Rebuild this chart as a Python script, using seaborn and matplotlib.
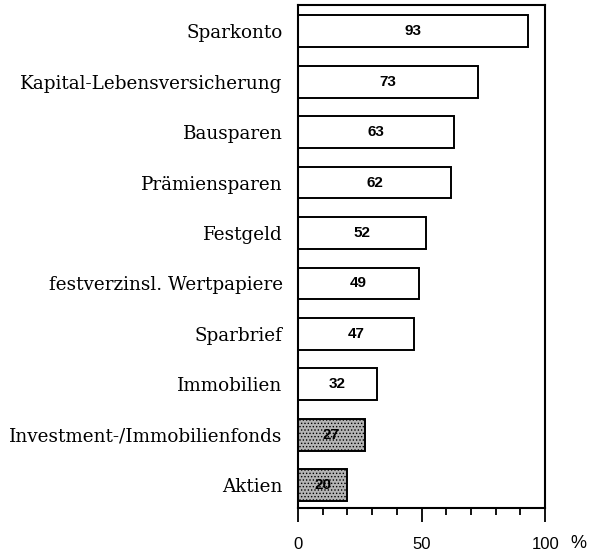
import matplotlib
matplotlib.use('Agg')
import matplotlib.pyplot as plt
from matplotlib.ticker import MultipleLocator
import seaborn as sns

anlageformen = ['Sparkonto', 'Kapital-Lebensversicherung', 'Bausparen', 'Prämiensparen',
                'Festgeld', 'festverzinsl. Wertpapiere', 'Sparbrief', 'Immobilien',
                'Investment-/Immobilienfonds', 'Aktien']
prozent = [93, 73, 63, 62, 52, 49, 47, 32, 27, 20]
gruppe = ['klassisch'] * 8 + ['fonds'] * 2

sns.set_style('white')
plt.rcParams['hatch.linewidth'] = 0.6
plt.rcParams['text.color'] = 'black'
plt.rcParams['xtick.color'] = 'black'
plt.rcParams['ytick.color'] = 'black'

fig = plt.figure(figsize=(5.9, 5.52), dpi=100)
ax = fig.add_axes([0.505, 0.08, 0.419, 0.911])

sns.barplot(x=prozent, y=anlageformen, hue=gruppe, orient='h', dodge=False,
            palette={'klassisch': 'white', 'fonds': '#b4b4b4'}, legend=False,
            width=0.63, edgecolor='black', linewidth=1.4, ax=ax)

# gepunktete Schraffur fuer die grauen Balken
for balken in ax.patches:
    if balken.get_facecolor()[0] < 0.9:
        balken.set_hatch('.....')

for balken in ax.patches:
    if balken.get_width() <= 0:
        continue
    x = balken.get_x() + balken.get_width() / 2
    y = balken.get_y() + balken.get_height() / 2
    ax.text(x, y, f'{int(round(balken.get_width()))}', ha='center', va='center',
            fontsize=11, fontweight='bold', family='Liberation Sans', color='black')

ax.set_xlim(0, 100)
ax.set_ylim(9.45, -0.52)
ax.set_xlabel('')
ax.set_ylabel('')

for seite in ax.spines.values():
    seite.set_visible(True)
    seite.set_linewidth(1.5)
    seite.set_color('black')

ax.xaxis.set_major_locator(MultipleLocator(50))
ax.xaxis.set_minor_locator(MultipleLocator(10))
ax.tick_params(axis='x', which='major', direction='out', length=10, width=1.3,
               pad=11, labelsize=12, bottom=True, colors='black')
ax.tick_params(axis='x', which='minor', direction='out', length=5, width=1.3,
               bottom=True, colors='black')
ax.tick_params(axis='y', length=0, pad=11, colors='black')
for lbl in ax.get_yticklabels():
    lbl.set_family('DejaVu Serif')
    lbl.set_fontsize(13.2)
for lbl in ax.get_xticklabels():
    lbl.set_family('Liberation Sans')

ax.text(1.135, -0.07, '%', transform=ax.transAxes, ha='center', va='center',
        fontsize=13, family='Liberation Sans', color='black')

fig.savefig('out.png', dpi=100)
